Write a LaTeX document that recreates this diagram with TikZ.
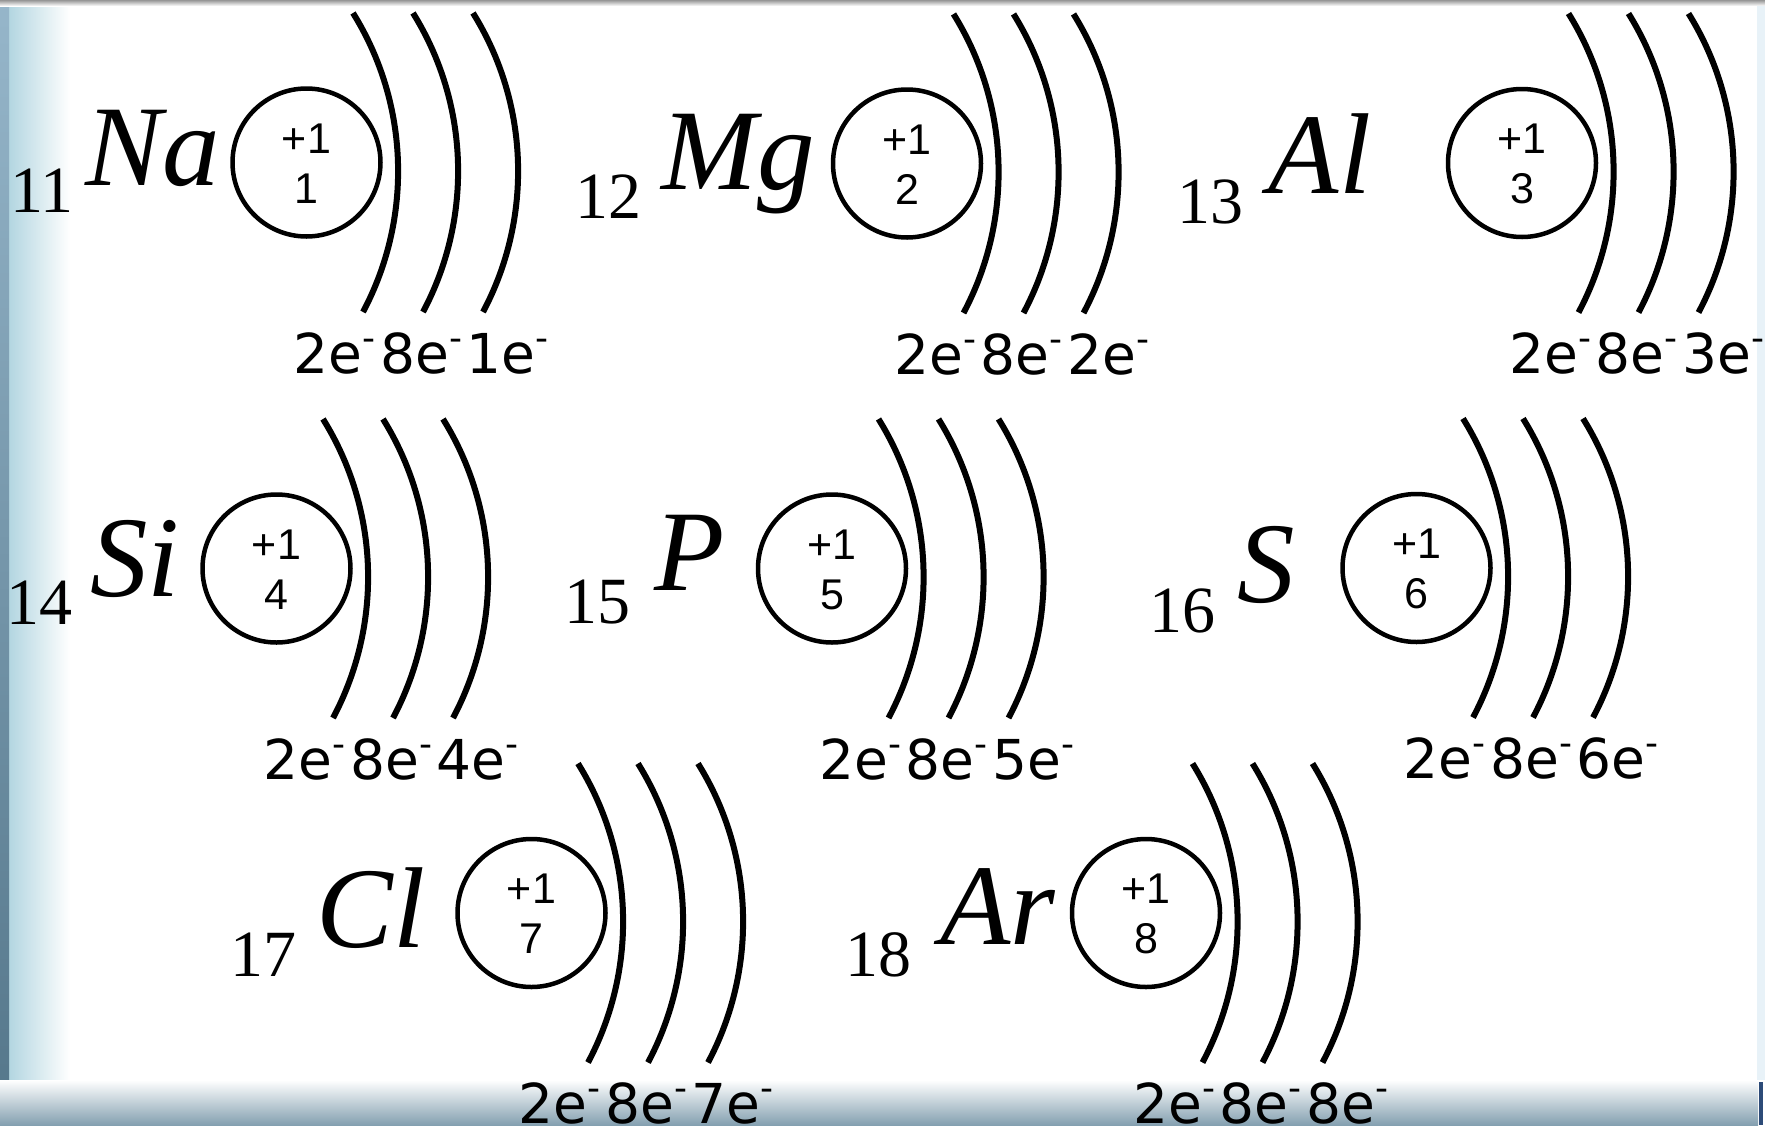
\documentclass[tikz,border=0pt]{standalone}
\usepackage{fontspec}
\setmainfont{Liberation Serif}
\newfontfamily\nucfont{Liberation Sans}
\newfontfamily\labfont{DejaVu Sans}
\definecolor{leftlight}{RGB}{168,208,220}
\definecolor{lefttop}{RGB}{150,182,202}
\definecolor{leftbot}{RGB}{84,118,138}
\definecolor{bottomband}{RGB}{132,160,176}
\definecolor{topline}{RGB}{150,150,150}
\definecolor{rightedge}{RGB}{232,242,248}
\definecolor{darkblue}{RGB}{45,75,120}
\newcommand\sm{\raisebox{23pt}{\fontsize{36}{36}\selectfont -}}
\tikzset{
  nucleus/.style={circle, draw=black, line width=4.5pt, minimum size=148pt, inner sep=0pt},
  nuctext/.style={inner sep=0pt, font=\nucfont\fontsize{43}{43}\selectfont},
  shell/.style={line width=6pt},
  elabel/.style={inner sep=0pt, anchor=base west, font=\labfont\fontsize{55}{55}\selectfont},
  symb/.style={inner sep=0pt, anchor=base, font=\fontsize{115}{115}\selectfont\itshape},
  anum/.style={inner sep=0pt, anchor=base, font=\fontsize{66}{66}\selectfont},
}
\newcommand\atomshells[5]{%
  \node[nucleus] (#1) at (#2,#3) {};
  \node[nuctext] (#1-q) at (#2,#3-24) {+1};
  \node[nuctext] (#1-z) at (#2,#3+26) {#4};
  \foreach \d in {0,60,120}{
    \draw[shell] (#2+46.5+\d,#3-149.5) .. controls (#2+102.9+\d,#3-58.8) and (#2+106.6+\d,#3+55.2) .. (#2+56.5+\d,#3+149.5);
  }
  \node[elabel] (#1-e) at (#2-13,#3+210.5) {\makebox[255pt][s]{2e\sm\hfill 8e\sm\hfill #5e\sm}};
}
\begin{document}
\begin{tikzpicture}[x=1pt,y=-1pt]
\useasboundingbox (0,0) rectangle (1765,1125);
% background
\fill[white] (0,0) rectangle (1765,1125);
\shade[left color=leftlight, right color=white] (0,0) rectangle (70,1125);
\shade[top color=lefttop, bottom color=leftbot] (0,0) rectangle (9,1125);
\shade[top color=white, bottom color=bottomband] (0,1080) rectangle (1758,1125);
\shade[top color=topline, bottom color=white] (0,0) rectangle (1765,6);
\fill[rightedge] (1757,6) rectangle (1765,1080);
\fill[darkblue] (1759,1082) rectangle (1763,1125);
% atoms
\atomshells{na}{306.5}{162.5}{1}{1}
\node[anum] (na-num) at (42,212) {11};
\node[symb] (na-sym) at (153,185) {Na};
\atomshells{mg}{907}{163.5}{2}{2}
\node[anum] (mg-num) at (608.5,218) {12};
\node[symb] (mg-sym) at (738,189) {Mg};
\atomshells{al}{1522}{163}{3}{3}
\node[anum] (al-num) at (1210,223) {13};
\node[symb] (al-sym) at (1320,193) {Al};
\atomshells{si}{276.5}{568.5}{4}{4}
\node[anum] (si-num) at (39,624) {14};
\node[symb] (si-sym) at (135,596) {Si};
\atomshells{p}{832}{568.5}{5}{5}
\node[anum] (p-num) at (597,623) {15};
\node[symb] (p-sym) at (690,590) {P};
\atomshells{s}{1416.5}{568}{6}{6}
\node[anum] (s-num) at (1182,632) {16};
\node[symb] (s-sym) at (1266,602) {S};
\atomshells{cl}{531.5}{913}{7}{7}
\node[anum] (cl-num) at (263.5,976) {17};
\node[symb] (cl-sym) at (371,947) {Cl};
\atomshells{ar}{1146}{913}{8}{8}
\node[anum] (ar-num) at (878,976) {18};
\node[symb] (ar-sym) at (998,944) {Ar};
\end{tikzpicture}
\end{document}
